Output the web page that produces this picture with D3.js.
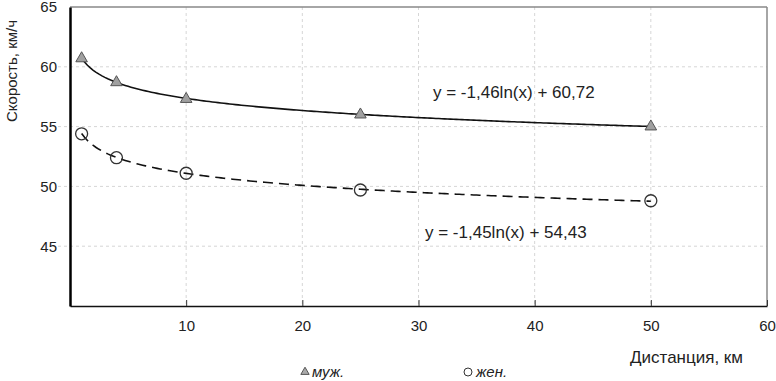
<!DOCTYPE html>
<html>
<head>
<meta charset="utf-8">
<script src="https://cdn.jsdelivr.net/npm/d3@7"></script>
<style>
  body { margin: 0; background: #fff; }
  svg text { font-family: Arial, "Liberation Sans", sans-serif; fill: #222; }
</style>
</head>
<body>
<div id="chart"></div>
<script>
// data
var distances = [1, 4, 10, 25, 50]
var men = [60.7, 58.7, 57.3, 56.0, 55.0]
var women = [54.4, 52.4, 51.1, 49.7, 48.8]
// trend coefficients as printed on the chart: y = a*ln(x) + b
var menTrend = [-1.46, 60.72]
var womenTrend = [-1.45, 54.43]
var xTicks = [10, 20, 30, 40, 50, 60]
var yTicks = [45, 50, 55, 60, 65]

var width = 776, height = 381
var plotLeft = 70, plotRight = 767, plotTop = 7, plotBottom = 306

var svg = d3.select("#chart").append("svg")
    .attr("width", width)
    .attr("height", height)

var x = d3.scaleLinear().domain([0, 60]).range([plotLeft, plotRight])
var y = d3.scaleLinear().domain([40, 65]).range([plotBottom, plotTop])

// grid
svg.append("g").selectAll("line").data(yTicks.slice(0, -1)).join("line")
    .attr("x1", plotLeft - 12).attr("x2", plotRight)
    .attr("y1", d => y(d)).attr("y2", d => y(d))
    .style("stroke", "#d6d6d6").style("stroke-dasharray", "3,3")
svg.append("g").selectAll("line").data(xTicks.slice(0, -1)).join("line")
    .attr("x1", d => x(d)).attr("x2", d => x(d))
    .attr("y1", plotTop).attr("y2", plotBottom)
    .style("stroke", "#d6d6d6").style("stroke-dasharray", "3,3")

// frame: top and right grey
svg.append("line").attr("x1", plotLeft).attr("x2", plotRight).attr("y1", plotTop).attr("y2", plotTop)
    .style("stroke", "#888").style("stroke-width", 1.5)
svg.append("line").attr("x1", plotRight).attr("x2", plotRight).attr("y1", plotTop).attr("y2", plotBottom)
    .style("stroke", "#888").style("stroke-width", 1.5)

// x axis
var gx = svg.append("g")
    .attr("transform", "translate(0," + plotBottom + ")")
    .call(d3.axisBottom(x).tickValues(xTicks).tickSizeInner(-6).tickSizeOuter(0).tickPadding(14))
gx.select(".domain").style("stroke", "#111").style("stroke-width", 1.5)
gx.selectAll(".tick line").style("stroke", "#333")
gx.selectAll("text").style("font-size", "15px").attr("fill", "#222")

// y axis
var gy = svg.append("g")
    .attr("transform", "translate(" + plotLeft + ",0)")
    .call(d3.axisLeft(y).tickValues(yTicks).tickSize(0).tickPadding(13))
gy.select(".domain").style("stroke", "#000").style("stroke-width", 2.5)
gy.selectAll("text").style("font-size", "15px").attr("fill", "#222")

// trend lines
var xs = d3.range(1, 50.01, 0.25)
var trend = d3.line()
    .x(d => x(d[0]))
    .y(d => y(d[1]))

svg.append("path")
    .attr("d", trend(xs.map(v => [v, menTrend[0] * Math.log(v) + menTrend[1]])))
    .style("fill", "none").style("stroke", "#111").style("stroke-width", 1.6)

svg.append("path")
    .attr("d", trend(xs.map(v => [v, womenTrend[0] * Math.log(v) + womenTrend[1]])))
    .style("fill", "none").style("stroke", "#111").style("stroke-width", 1.6)
    .style("stroke-dasharray", "10,6")

// markers
var tri = d3.symbol().type(d3.symbolTriangle).size(58)
svg.append("g").selectAll("path").data(distances).join("path")
    .attr("d", tri)
    .attr("transform", (d, i) => "translate(" + x(d) + "," + y(men[i]) + ")")
    .style("fill", "#a0a0a0").style("stroke", "#555").style("stroke-width", 1)

svg.append("g").selectAll("circle").data(distances).join("circle")
    .attr("cx", d => x(d))
    .attr("cy", (d, i) => y(women[i]))
    .attr("r", 6)
    .style("fill", "none").style("stroke", "#333").style("stroke-width", 1.3)

// equations
svg.append("text").attr("x", 433).attr("y", 98)
    .style("font-size", "17px")
    .text("y = -1,46ln(x) + 60,72")
svg.append("text").attr("x", 425).attr("y", 238)
    .style("font-size", "17px")
    .text("y = -1,45ln(x) + 54,43")

// axis titles
svg.append("text")
    .attr("text-anchor", "middle")
    .attr("transform", "translate(17,71)rotate(-90)")
    .style("font-size", "15px")
    .text("Скорость, км/ч")

svg.append("text")
    .attr("text-anchor", "end")
    .attr("x", 743).attr("y", 363)
    .style("font-size", "17px")
    .text("Дистанция, км")

// legend
var legend = svg.append("g")
legend.append("path")
    .attr("d", d3.symbol().type(d3.symbolTriangle).size(30))
    .attr("transform", "translate(305,372)")
    .style("fill", "#aaa").style("stroke", "#555")
legend.append("text").attr("x", 312).attr("y", 377)
    .style("font-size", "15px").style("font-style", "italic")
    .text("муж.")
legend.append("circle").attr("cx", 468).attr("cy", 372).attr("r", 4)
    .style("fill", "none").style("stroke", "#333")
legend.append("text").attr("x", 476).attr("y", 377)
    .style("font-size", "15px").style("font-style", "italic")
    .text("жен.")
</script>
</body>
</html>
